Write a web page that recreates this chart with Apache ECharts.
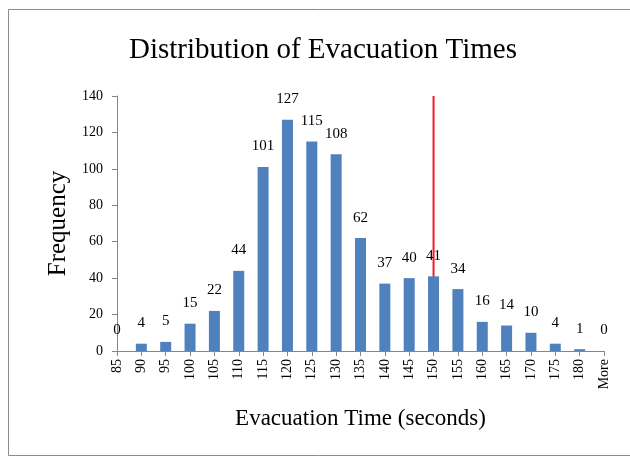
<!DOCTYPE html>
<html>
<head>
<meta charset="utf-8">
<script src="https://cdn.jsdelivr.net/npm/echarts@6/dist/echarts.min.js"></script>
<style>html,body{margin:0;padding:0;background:#fff}#c{width:630px;height:460px}</style>
</head>
<body>
<div id="c"></div>
<script>
const categories = ['85','90','95','100','105','110','115','120','125','130','135','140','145','150','155','160','165','170','175','180','More'];
const frequencies = [0,4,5,15,22,44,101,127,115,108,62,37,40,41,34,16,14,10,4,1,0];
const refCategory = '150';
const refLineValues = [0,140];
const yTicks = {min:0,max:140,interval:20};

const serif = '"Liberation Serif","DejaVu Serif",serif';
const chart = echarts.init(document.getElementById('c'));
chart.setOption({
  animation:false,
  backgroundColor:'#fff',
  graphic:[{type:'rect',shape:{x:8.5,y:9.5,width:640,height:446},style:{fill:'none',stroke:'#8c8c8c',lineWidth:1}}],
  title:{text:'Distribution of Evacuation Times',left:318,textAlign:'center',top:31,textStyle:{fontFamily:serif,fontSize:29,fontWeight:'normal',color:'#000'}},
  grid:{left:117,top:96,right:26,bottom:109,containLabel:false},
  xAxis:{type:'category',data:categories,boundaryGap:false,
    name:'Evacuation Time (seconds)',nameLocation:'middle',nameGap:56,
    nameTextStyle:{fontFamily:serif,fontSize:23,color:'#000'},
    axisLine:{lineStyle:{color:'#868686',width:1}},
    axisTick:{show:true,alignWithLabel:true,length:5,lineStyle:{color:'#868686'}},
    axisLabel:{rotate:90,interval:0,fontFamily:serif,fontSize:14,color:'#000',margin:8}},
  yAxis:{type:'value',min:yTicks.min,max:yTicks.max,interval:yTicks.interval,
    name:'Frequency',nameLocation:'middle',nameGap:34,
    nameTextStyle:{fontFamily:serif,fontSize:25,color:'#000'},
    splitLine:{show:false},
    axisLine:{show:true,lineStyle:{color:'#868686',width:1}},
    axisTick:{show:true,length:5,lineStyle:{color:'#868686'}},
    axisLabel:{fontFamily:serif,fontSize:14,color:'#000',margin:14}},
  series:[
    {type:'line',z:1,data:refLineValues.map(v=>[refCategory,v]),symbol:'none',
     lineStyle:{color:'#ee1c24',width:2},silent:true},
    {type:'bar',z:2,data:frequencies,barWidth:11,
     itemStyle:{color:'#4f81bd'},
     label:{show:true,position:'top',distance:13,fontFamily:serif,fontSize:15,color:'#000'}}
  ]
});
</script>
</body>
</html>
